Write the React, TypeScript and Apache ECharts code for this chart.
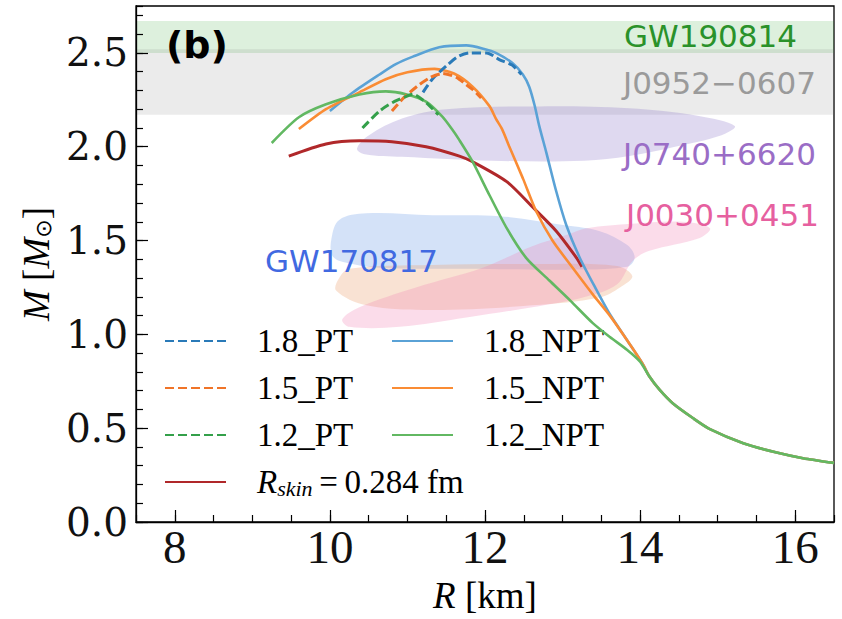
import React, { useEffect, useRef } from "react";
import * as echarts from "echarts";

// ---------- tick values ----------
const xMajorTicks = [8, 10, 12, 14, 16];
const yMajorTicks = [0, 0.5, 1.0, 1.5, 2.0, 2.5];

// ---------- observational bands (M range) ----------
const bandGW190814 = [2.5, 2.67];
const bandJ0952 = [2.17, 2.52];

// ---------- observational blobs [R, M] ----------
const blobJ0740 = [
  [10.35, 1.99], [10.5, 2.06], [10.93, 2.15], [11.5, 2.2], [12.7, 2.215], [13.86, 2.205],
  [14.74, 2.165], [15.22, 2.11], [15.04, 2.06], [14.45, 2.0], [13.86, 1.95], [13.28, 1.925],
  [12.1, 1.925], [10.93, 1.946], [10.45, 1.96],
];
const blobGW170817a = [
  [10.02, 1.51], [10.12, 1.61], [10.47, 1.645], [11.32, 1.635], [12.19, 1.63], [13.05, 1.58],
  [13.48, 1.55], [13.83, 1.477], [13.93, 1.41], [13.83, 1.36], [13.05, 1.345], [11.76, 1.35],
  [10.64, 1.355], [10.17, 1.385], [10.03, 1.42],
];
const blobGW170817b = [
  [10.12, 1.3], [10.25, 1.35], [11.32, 1.37], [12.61, 1.375], [13.7, 1.365], [13.9, 1.31],
  [13.74, 1.25], [13.48, 1.197], [12.61, 1.155], [11.32, 1.13], [10.47, 1.155], [10.08, 1.234],
];
const blobJ0030 = [
  [10.16, 1.08], [10.38, 1.145], [11.11, 1.25], [11.97, 1.355], [12.61, 1.47], [13.05, 1.53],
  [13.31, 1.566], [13.9, 1.59], [14.55, 1.6], [14.9, 1.566], [14.77, 1.514], [14.12, 1.445],
  [13.9, 1.39], [13.7, 1.266], [13.26, 1.197], [12.61, 1.145], [11.76, 1.09], [10.9, 1.04],
  [10.25, 1.04],
];

// ---------- M-R curves [R (km), M (Msun)] ----------
const npt18 = [
  [10.0, 2.19], [10.3, 2.29], [10.64, 2.385], [10.85, 2.44], [11.07, 2.48], [11.41, 2.53],
  [11.76, 2.54], [12.0, 2.52], [12.14, 2.5], [12.35, 2.447], [12.49, 2.384], [12.57, 2.32],
  [12.64, 2.22], [12.7, 2.11], [12.79, 1.97], [12.92, 1.76], [13.05, 1.58], [13.22, 1.41],
  [13.42, 1.25], [13.61, 1.107], [13.83, 0.97], [14.03, 0.845], [14.12, 0.775], [14.25, 0.705],
  [14.42, 0.633], [14.68, 0.554], [14.9, 0.495], [15.33, 0.42], [15.76, 0.37], [16.1, 0.34],
  [16.5, 0.315],
];
const npt15 = [
  [9.6, 2.094], [9.95, 2.2], [10.38, 2.29], [10.72, 2.36], [11.0, 2.397], [11.35, 2.415],
  [11.6, 2.39], [11.84, 2.32], [12.06, 2.215], [12.14, 2.15], [12.22, 2.094], [12.31, 2.004],
  [12.49, 1.83], [12.66, 1.656], [12.87, 1.5], [13.13, 1.355], [13.39, 1.213], [13.61, 1.1],
  [13.83, 0.97], [14.03, 0.845], [14.12, 0.775], [14.25, 0.705], [14.42, 0.633], [14.68, 0.554],
  [14.9, 0.495], [15.33, 0.42], [15.76, 0.37], [16.1, 0.34], [16.5, 0.315],
];
const npt12 = [
  [9.25, 2.02], [9.6, 2.157], [9.95, 2.226], [10.38, 2.278], [10.72, 2.295], [10.98, 2.28],
  [11.24, 2.24], [11.45, 2.16], [11.58, 2.09], [11.67, 2.035], [11.84, 1.92], [12.06, 1.74],
  [12.28, 1.566], [12.53, 1.408], [12.83, 1.287], [13.1, 1.18], [13.39, 1.06], [13.61, 0.986],
  [13.83, 0.918], [14.0, 0.854], [14.12, 0.775], [14.25, 0.705], [14.42, 0.633], [14.68, 0.554],
  [14.9, 0.495], [15.33, 0.42], [15.76, 0.37], [16.1, 0.34], [16.5, 0.315],
];
const pt18 = [
  [11.2, 2.29], [11.32, 2.36], [11.5, 2.43], [11.65, 2.48], [11.8, 2.5], [12.02, 2.5],
  [12.19, 2.463], [12.35, 2.435], [12.47, 2.385],
];
const pt15 = [
  [10.8, 2.19], [10.95, 2.26], [11.15, 2.33], [11.3, 2.37], [11.45, 2.39], [11.63, 2.37],
  [11.76, 2.33], [11.84, 2.305], [11.95, 2.26],
];
const pt12 = [
  [10.42, 2.1], [10.64, 2.19], [10.81, 2.236], [10.98, 2.267], [11.07, 2.28], [11.24, 2.235],
  [11.4, 2.17],
];
const rskin = [
  [9.47, 1.95], [9.95, 2.015], [10.38, 2.032], [10.8, 2.027], [11.24, 2.0], [11.67, 1.95],
  [11.84, 1.92], [12.28, 1.814], [12.61, 1.68], [12.92, 1.55], [13.18, 1.408], [13.25, 1.36],
];

const SERIF = "'Liberation Serif', 'Times New Roman', serif";
const SANS = "'DejaVu Sans', sans-serif";

function bandSeries(band: number[], fill: string) {
  return {
    type: "custom",
    xAxisIndex: 0,
    yAxisIndex: 0,
    z: 0,
    silent: true,
    data: [[band[0], band[1]]],
    renderItem: (params: any, api: any) => {
      const cs = params.coordSys;
      const yTop = api.coord([10, api.value(1)])[1];
      const yBot = api.coord([10, api.value(0)])[1];
      return {
        type: "rect",
        shape: { x: cs.x, y: yTop, width: cs.width, height: yBot - yTop },
        style: { fill },
      };
    },
  };
}

function blobSeries(pts: number[][], fill: string) {
  return {
    type: "custom",
    xAxisIndex: 0,
    yAxisIndex: 0,
    z: 1,
    silent: true,
    data: pts,
    renderItem: (params: any, api: any) => {
      if (params.dataIndex !== 0) return null;
      const points = pts.map((p) => api.coord(p));
      return {
        type: "polygon",
        shape: { points, smooth: 0.35 },
        style: { fill },
      };
    },
  };
}

function lineSeries(name: string, data: number[][], color: string, dashed: boolean, width: number, z: number) {
  return {
    name,
    type: "line",
    xAxisIndex: 0,
    yAxisIndex: 0,
    data,
    symbol: "none",
    smooth: 0.25,
    z,
    lineStyle: { color, width, type: dashed ? [9, 4] : "solid" },
    itemStyle: { color },
  };
}

const legendText = {
  fontFamily: SERIF,
  fontSize: 33,
  color: "#000",
  lineHeight: 34,
  padding: [0, 0, 0, 26],
  rich: {
    i: { fontFamily: SERIF, fontStyle: "italic", fontSize: 33, lineHeight: 34, color: "#000" },
    sub: { fontFamily: SERIF, fontStyle: "italic", fontSize: 22, lineHeight: 22, verticalAlign: "bottom", color: "#000" },
    n: { fontFamily: SERIF, fontSize: 33, lineHeight: 34, color: "#000" },
  },
};

const isMajor = (v: number, step: number) => Math.abs(v / step - Math.round(v / step)) < 1e-6;

export default function App() {
  const ref = useRef<HTMLDivElement>(null);
  useEffect(() => {
    const chart = echarts.init(ref.current!, null, { renderer: "svg" });
    const legendCommon = {
      orient: "vertical",
      top: 324,
      padding: 0,
      itemWidth: 61,
      itemHeight: 14,
      itemGap: 13,
      selectedMode: false,
      itemStyle: { opacity: 0, borderWidth: 0 },
      textStyle: legendText,
    };
    const option: any = {
      animation: false,
      backgroundColor: "#fff",
      grid: {
        left: 136,
        right: 8,
        top: 6,
        bottom: 92,
        show: true,
        borderColor: "#000",
        borderWidth: 1.3,
        backgroundColor: "transparent",
      },
      xAxis: [
        {
          type: "value",
          min: 7.5,
          max: 16.5,
          interval: 0.5,
          position: "bottom",
          name: "{i|R} [km]",
          nameLocation: "middle",
          nameGap: 55,
          nameTextStyle: {
            fontFamily: SERIF,
            fontSize: 37,
            color: "#000",
            rich: { i: { fontFamily: SERIF, fontStyle: "italic", fontSize: 37, color: "#000" } },
          },
          axisLine: { show: true, lineStyle: { color: "#000", width: 1.3 } },
          axisTick: { show: true, inside: true, length: 7, lineStyle: { color: "#000", width: 1.2 } },
          axisLabel: {
            show: true,
            margin: 1,
            fontFamily: SERIF,
            fontSize: 47,
            color: "#111",
            formatter: (v: number) => (xMajorTicks.some((t) => Math.abs(t - v) < 1e-6) ? String(Math.round(v)) : ""),
          },
          splitLine: { show: false },
        },
        {
          type: "value",
          min: 7.5,
          max: 16.5,
          position: "bottom",
          axisLine: { show: false },
          axisTick: { show: true, inside: true, length: 12, customValues: xMajorTicks, lineStyle: { color: "#000", width: 1.2 } },
          axisLabel: { show: false },
          splitLine: { show: false },
        },
      ],
      yAxis: [
        {
          type: "value",
          min: 0,
          max: 2.75,
          interval: 0.1,
          position: "left",
          name: "{i|M} [{i|M}{sub|\u2299}]",
          nameLocation: "middle",
          nameRotate: 90,
          nameGap: 77,
          nameTextStyle: {
            fontFamily: SERIF,
            fontSize: 37,
            color: "#000",
            rich: {
              i: { fontFamily: SERIF, fontStyle: "italic", fontSize: 37, color: "#000" },
              sub: { fontFamily: SANS, fontSize: 22, color: "#000", padding: [14, 0, 0, 0] },
            },
          },
          axisLine: { show: true, lineStyle: { color: "#000", width: 1.3 } },
          axisTick: { show: true, inside: true, length: 7, lineStyle: { color: "#000", width: 1.2 } },
          axisLabel: {
            show: true,
            margin: 8,
            fontFamily: "'DejaVu Serif', serif",
            fontSize: 39,
            color: "#111",
            formatter: (v: number) => (isMajor(v, 0.5) && v <= 2.5 + 1e-6 ? v.toFixed(1) : ""),
          },
          splitLine: { show: false },
        },
        {
          type: "value",
          min: 0,
          max: 2.75,
          position: "left",
          axisLine: { show: false },
          axisTick: { show: true, inside: true, length: 12, customValues: yMajorTicks, lineStyle: { color: "#000", width: 1.2 } },
          axisLabel: { show: false },
          splitLine: { show: false },
        },
      ],
      legend: [
        {
          ...legendCommon,
          data: ["1.8_PT", "1.5_PT", "1.2_PT", "Rskin"],
          left: 164,
          formatter: (name: string) =>
            name === "Rskin" ? "{i|R}{sub|skin}{n|\u2009=\u20090.284 fm}" : name,
        },
        {
          ...legendCommon,
          data: ["1.8_NPT", "1.5_NPT", "1.2_NPT"],
          left: 391,
        },
      ],
      series: [
        bandSeries(bandGW190814, "rgba(44,160,44,0.16)"),
        bandSeries(bandJ0952, "rgba(120,120,120,0.15)"),
        blobSeries(blobJ0740, "rgba(140,120,200,0.28)"),
        blobSeries(blobGW170817a, "rgba(100,150,230,0.28)"),
        blobSeries(blobGW170817b, "rgba(235,160,110,0.3)"),
        blobSeries(blobJ0030, "rgba(240,130,180,0.28)"),
        lineSeries("Rskin", rskin, "#b0282a", false, 3, 3),
        lineSeries("1.8_NPT", npt18, "#5aa2d6", false, 2.6, 4),
        lineSeries("1.5_NPT", npt15, "#fa8c34", false, 2.6, 4),
        lineSeries("1.2_NPT", npt12, "#62b862", false, 2.6, 4),
        lineSeries("1.8_PT", pt18, "#2a7ab8", true, 3, 5),
        lineSeries("1.5_PT", pt15, "#f07428", true, 3, 5),
        lineSeries("1.2_PT", pt12, "#34a04a", true, 3, 5),
      ],
      graphic: [
        { type: "text", x: 166, y: 45, z: 10, style: { text: "(b)", fill: "#000", fontFamily: SANS, fontWeight: "bold", fontSize: 38, textAlign: "left", textVerticalAlign: "middle", align: "left", verticalAlign: "middle" } },
        { type: "text", x: 624, y: 36, z: 10, style: { text: "GW190814", fill: "#2a922a", fontFamily: SANS, fontSize: 31, textAlign: "left", textVerticalAlign: "middle", align: "left", verticalAlign: "middle" } },
        { type: "text", x: 623, y: 83, z: 10, style: { text: "J0952\u22120607", fill: "#9a9a9a", fontFamily: SANS, fontSize: 31, textAlign: "left", textVerticalAlign: "middle", align: "left", verticalAlign: "middle" } },
        { type: "text", x: 623, y: 154, z: 10, style: { text: "J0740+6620", fill: "#9a6dc6", fontFamily: SANS, fontSize: 31, textAlign: "left", textVerticalAlign: "middle", align: "left", verticalAlign: "middle" } },
        { type: "text", x: 626, y: 215, z: 10, style: { text: "J0030+0451", fill: "#e6609f", fontFamily: SANS, fontSize: 31, textAlign: "left", textVerticalAlign: "middle", align: "left", verticalAlign: "middle" } },
        { type: "text", x: 265, y: 261, z: 10, style: { text: "GW170817", fill: "#4169e1", fontFamily: SANS, fontSize: 31, textAlign: "left", textVerticalAlign: "middle", align: "left", verticalAlign: "middle" } },
      ],
    };
    chart.setOption(option);
    return () => chart.dispose();
  }, []);
  return <div ref={ref} style={{ position: "fixed", left: 0, top: 0, width: 842, height: 619 }} />;
}
